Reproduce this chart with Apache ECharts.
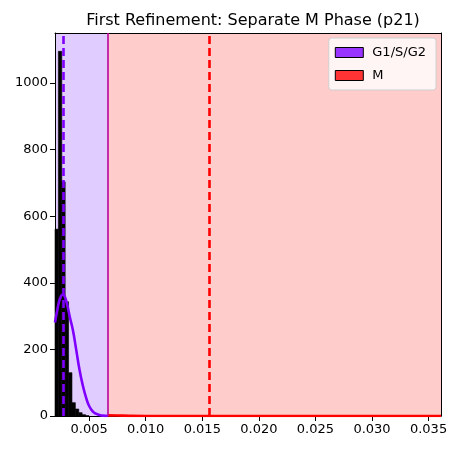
<!DOCTYPE html>
<html>
<head>
<meta charset="utf-8">
<script src="https://cdn.jsdelivr.net/npm/echarts@6/dist/echarts.min.js"></script>
<style>
  html, body { margin: 0; padding: 0; background: #fff; }
  #main { width: 458px; height: 451px; }
</style>
</head>
<body>
<div id="main"></div>
<script>
// histogram bins (left edge) and counts
let binStarts = [0.00198, 0.00228, 0.00258, 0.00288, 0.00318, 0.00348, 0.00378, 0.00408, 0.00438, 0.00468];
let binCounts = [561, 1095, 703, 343, 130, 40, 21, 10, 4, 1];
let binWidth = 0.0003;

// G1/S/G2 fitted curve
let g1X = [0.00198, 0.00215, 0.00235, 0.00255, 0.00268, 0.00285, 0.00305, 0.0033, 0.00356, 0.00385, 0.00415, 0.00445, 0.00474, 0.005, 0.00533, 0.0056, 0.00592, 0.0062, 0.00665];
let g1Y = [281, 312, 345, 362, 365, 358, 335, 296, 258, 200, 138, 90, 54, 30, 13, 7, 3, 1, 0.3];

// M curve along the bottom
let mX = [0.00665, 0.0075, 0.0085, 0.01, 0.02, 0.0361];
let mY = [2, 1.5, 0.5, 0, 0, 0];

let xMin = 0.00198, xMax = 0.0361;
let threshold = 0.00665;
let g1Mean = 0.00268;
let mMean = 0.01564;

let yTicks = [0, 200, 400, 600, 800, 1000];

function newChart(container){
    let hist = [];
    for (let i = 0; i < binStarts.length; i++){
        hist.push([binStarts[i], binCounts[i]]);
    }
    let g1Data = g1X.map((x, i) => [x, g1Y[i]]);
    let mData = mX.map((x, i) => [x, mY[i]]);
    let font = 'DejaVu Sans';
    let frame = {show: true, onZero: false, lineStyle: {color: '#000', width: 1}};

    let option = {
        animation: false,
        textStyle: {fontFamily: font},
        title: {
            text: 'First Refinement: Separate M Phase (p21)',
            left: 248, top: 8, textAlign: 'center',
            textStyle: {fontFamily: font, fontSize: 16, fontWeight: 'normal', color: '#000'}
        },
        legend: {
            orient: 'vertical',
            right: 22, top: 38,
            itemWidth: 28, itemHeight: 10, itemGap: 10,
            padding: [8, 10, 8, 6],
            backgroundColor: 'rgba(255,255,255,0.8)',
            borderColor: '#d0d0d0', borderWidth: 1, borderRadius: 3,
            textStyle: {fontFamily: font, fontSize: 13, color: '#000', padding: [0, 0, 0, 4]},
            data: [
                {name: 'G1/S/G2', icon: 'rect', itemStyle: {color: '#9933ff', borderColor: '#000', borderWidth: 1}},
                {name: 'M', icon: 'rect', itemStyle: {color: '#ff3333', borderColor: '#000', borderWidth: 1}}
            ]
        },
        grid: {left: 55, right: 17, top: 33, bottom: 35},
        xAxis: [{
            type: 'value', min: xMin, max: xMax, splitNumber: 7, z: 1.5,
            axisLine: frame,
            axisTick: {show: true, length: 5, lineStyle: {color: '#000'}},
            axisLabel: {
                color: '#000', fontSize: 13, fontFamily: font, margin: 7,
                showMinLabel: false, showMaxLabel: false,
                formatter: v => v.toFixed(3)
            },
            splitLine: {show: false}
        }, {
            type: 'value', position: 'top', min: xMin, max: xMax, z: 1.5,
            axisLine: frame, axisTick: {show: false}, axisLabel: {show: false}, splitLine: {show: false}
        }],
        yAxis: [{
            type: 'value', min: 0, max: 1150, interval: 200, z: 1.5,
            axisLine: frame,
            axisTick: {show: true, length: 5, lineStyle: {color: '#000'}},
            axisLabel: {
                color: '#000', fontSize: 13, fontFamily: font, margin: 7,
                showMaxLabel: false,
                formatter: v => yTicks.includes(v) ? String(v) : ''
            },
            splitLine: {show: false}
        }, {
            type: 'value', position: 'right', min: 0, max: 1150, z: 1.5,
            axisLine: frame, axisTick: {show: false}, axisLabel: {show: false}, splitLine: {show: false}
        }],
        series: [
            {
                name: 'shade', type: 'line', data: [], z: 1, silent: true,
                markArea: {
                    silent: true, precision: 6,
                    data: [
                        [{xAxis: xMin, yAxis: 0, itemStyle: {color: '#e1ccff'}}, {xAxis: threshold, yAxis: 1150}],
                        [{xAxis: threshold, yAxis: 0, itemStyle: {color: '#ffcccc'}}, {xAxis: xMax, yAxis: 1150}]
                    ]
                }
            },
            {
                name: 'hist', type: 'custom', z: 2, silent: true,
                data: hist,
                renderItem: function(params, api){
                    let x0 = api.value(0);
                    let c = api.value(1);
                    let p0 = api.coord([x0, c]);
                    let p1 = api.coord([x0 + binWidth, 0]);
                    return {
                        type: 'rect',
                        shape: {x: p0[0], y: p0[1], width: p1[0] - p0[0], height: p1[1] - p0[1]},
                        style: {fill: '#000', stroke: '#000', lineWidth: 0.6}
                    };
                }
            },
            {
                name: 'G1/S/G2', type: 'line', z: 3, smooth: true, showSymbol: false,
                data: g1Data,
                lineStyle: {color: '#8000ff', width: 2.6},
                itemStyle: {color: '#9933ff'}
            },
            {
                name: 'M', type: 'line', z: 3, smooth: true, showSymbol: false,
                data: mData,
                lineStyle: {color: '#ff0000', width: 2.6},
                itemStyle: {color: '#ff3333'}
            },
            {
                name: 'vlines', type: 'line', data: [], z: 4, silent: true,
                markLine: {
                    silent: true, symbol: 'none', label: {show: false}, precision: 6,
                    lineStyle: {width: 2.5},
                    data: [
                        {xAxis: g1Mean, lineStyle: {color: '#8000ff', width: 2.6, type: [8, 4]}},
                        {xAxis: mMean, lineStyle: {color: '#ff0000', width: 2.6, type: [8, 4]}},
                        {xAxis: threshold, lineStyle: {color: '#b8009c', width: 1.6, type: 'solid'}}
                    ]
                }
            }
        ]
    };
    let chart = echarts.init(container, null, {renderer: 'canvas'});
    chart.setOption(option);
}

newChart(document.getElementById('main'));
</script>
</body>
</html>
